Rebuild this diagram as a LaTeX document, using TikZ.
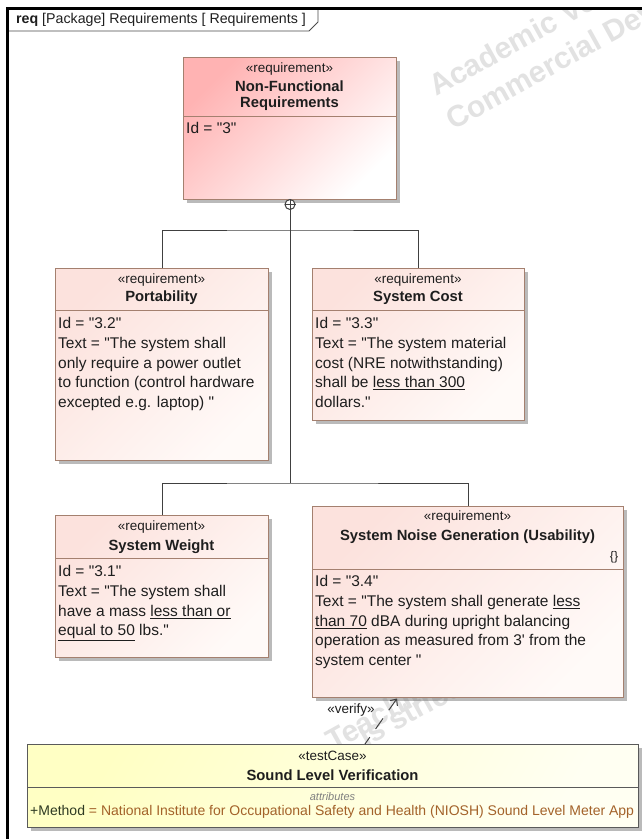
\documentclass[tikz,border=0pt]{standalone}
\usepackage{fontspec}
\setmainfont{Liberation Sans}[Ligatures=TeXOff]
\usetikzlibrary{arrows.meta,shadows}

\definecolor{reqborder}{HTML}{A4806F}
\definecolor{reqA}{HTML}{FCE2DD}
\definecolor{reqB}{HTML}{FFFAF8}
\definecolor{nfrA}{HTML}{FFB3B3}
\definecolor{nfrB}{HTML}{FFFFFF}
\definecolor{tcA}{HTML}{FFFFC4}
\definecolor{tcB}{HTML}{FFFFF2}
\definecolor{tcborder}{HTML}{5A5A5A}
\definecolor{connc}{HTML}{404040}
\definecolor{methA}{HTML}{2E3A22}
\definecolor{methB}{HTML}{A3622A}
\definecolor{wmc}{HTML}{E2E2E2}
\definecolor{txt}{HTML}{1E1E1E}

\begin{document}
\begin{tikzpicture}[x=1pt,y=-1pt,
  shadowed/.style={drop shadow={shadow xshift=3pt,shadow yshift=-3pt,opacity=.45,fill=black!60}},
  boxsize/.style 2 args={minimum width=#1pt,minimum height=#2pt},
  reqbox/.style={draw=reqborder,line width=1.1pt,top color=reqA,bottom color=reqB,shading angle=45,
    shadowed,inner sep=0pt,anchor=north west},
  nfrbox/.style={reqbox,top color=nfrA,bottom color=nfrB,shading angle=45},
  tcbox/.style={draw=tcborder,line width=1.1pt,left color=tcA,right color=tcB,shading angle=60,
    shadowed,inner sep=0pt,anchor=north west},
  sepline/.style={draw=reqborder,line width=1pt},
  tcsep/.style={draw=tcborder,line width=1pt},
  stereo/.style={font=\fontsize{13.5}{16}\selectfont,text=txt,inner sep=0pt},
  rname/.style={font=\bfseries\fontsize{14.8}{16}\selectfont,text=txt,inner sep=0pt,align=center},
  body/.style={font=\fontsize{15.5}{19.7}\selectfont,text=txt,align=left,inner sep=0pt,anchor=north west},
  conn/.style={draw=connc,line width=1pt},
  wm/.style={font=\bfseries\fontsize{30}{30}\selectfont,text=wmc,inner sep=0pt,anchor=base west,rotate=29}
]
\useasboundingbox (0,0) rectangle (642,839);
\fill[white] (0,0) rectangle (642,839);

% watermarks (behind everything)
\begin{scope}
  \clip (8,10) rectangle (642,839);
  \node[wm] (wm1) at (436,97) {Academic Version};
  \node[wm] (wm2) at (453,131) {Commercial Development};
  \node[wm] (wm3) at (333,752) {Teaching};
  \node[wm] (wm4) at (366,748) {is strictly};
\end{scope}

% frame and tab
\draw[line width=0.8pt,draw=black!70,fill=white] (7,8.5) -- (318,8.5) -- (318,22) -- (309,31) -- (7,31) -- cycle;
\node[anchor=west,inner sep=0pt,font=\fontsize{14.2}{16}\selectfont,text=txt] (title) at (16,19.5)
  {\textbf{req} [Package] Requirements [ Requirements ]};
\draw[line width=3pt,black] (7,839) -- (7,8.5) -- (642,8.5);

% Non-Functional Requirements
\node[nfrbox,boxsize={213}{142}] (nfr) at (183,57) {};
\draw[sepline] (nfr.west |- 0,116) -- (nfr.east |- 0,116);
\node[stereo] (nfrst) at (289.5,69) {«requirement»};
\node[rname] (nfrnm) at (289.5,96) {Non-Functional\\Requirements};
\node[body] (nfrtx) at (186,122.4) {Id = "3"};

% Portability
\node[reqbox,boxsize={213}{192}] (port) at (55,268) {};
\draw[sepline] (port.west |- 0,310) -- (port.east |- 0,310);
\node[stereo] (portst) at (161.5,280) {«requirement»};
\node[rname] (portnm) at (161.5,298) {Portability};
\node[body] (porttx) at (58,317.4) {Id = "3.2"\\Text = "The system shall\\only require a power outlet\\to function (control hardware\\excepted e.g. laptop) "};

% System Cost
\node[reqbox,boxsize={212}{152}] (cost) at (312,268) {};
\draw[sepline] (cost.west |- 0,310) -- (cost.east |- 0,310);
\node[stereo] (costst) at (418,280) {«requirement»};
\node[rname] (costnm) at (418,298) {System Cost};
\node[body] (costtx) at (315,317.4) {Id = "3.3"\\Text = "The system material\\cost (NRE notwithstanding)\\shall be \underline{less than 300}\\dollars."};

% System Weight
\node[reqbox,boxsize={213}{142}] (weight) at (55,515) {};
\draw[sepline] (weight.west |- 0,558) -- (weight.east |- 0,558);
\node[stereo] (weightst) at (161.5,527) {«requirement»};
\node[rname] (weightnm) at (161.5,547) {System Weight};
\node[body] (weighttx) at (58,565.4) {Id = "3.1"\\Text = "The system shall\\have a mass \underline{less than or}\\\underline{equal to 50} lbs."};

% System Noise Generation
\node[reqbox,boxsize={311}{191}] (noise) at (312,506) {};
\draw[sepline] (noise.west |- 0,569) -- (noise.east |- 0,569);
\node[stereo] (noisest) at (467.5,517) {«requirement»};
\node[rname] (noisenm) at (467.5,537) {System Noise Generation (Usability)};
\node[inner sep=0pt,font=\fontsize{12.5}{14}\selectfont,text=txt] (noisecb) at (614,557) {\{\}};
\node[body] (noisetx) at (315,575.4) {Id = "3.4"\\Text = "The system shall generate \underline{less}\\\underline{than 70} dBA during upright balancing\\operation as measured from 3' from the\\system center "};

% Test case
\node[tcbox,boxsize={611}{83}] (tc) at (27,744) {};
\draw[tcsep] (tc.west |- 0,787) -- (tc.east |- 0,787);
\node[stereo] (tcst) at (332.5,755.5) {«testCase»};
\node[rname] (tcnm) at (332.5,775) {Sound Level Verification};
\node[inner sep=0pt,font=\itshape\fontsize{11}{12}\selectfont,text=black!50] (tcattr) at (332.5,797) {attributes};
\node[anchor=west,inner sep=0pt,font=\fontsize{14}{16}\selectfont] (tcmeth) at (30,812)
  {\textcolor{methA}{+Method} \textcolor{methB}{= National Institute for Occupational Safety and Health (NIOSH) Sound Level Meter App}};

% containment connectors
\node[circle,draw=connc,line width=1pt,fill=white,minimum size=10pt,inner sep=0pt] (plus) at (290,204.5) {};
\draw[conn] (plus.north) -- (plus.south) (plus.west) -- (plus.east);
\coordinate (j1) at (290,230);
\coordinate (j2) at (290,483);
\draw[conn] (plus.south) -- (j2);
\draw[conn] (port.north) |- (j1) -| (cost.north);
\draw[conn] (weight.north) |- (j2) -| (noise.north);

% verify dependency
\coordinate (vtip) at (397,698.5);
\coordinate (vtail) at (365,744);
\draw[conn,dash pattern=on 13pt off 10pt,{Straight Barb[length=5pt,width=9pt]}-] (vtip) -- (vtail);
\node[stereo] (vlabel) at (351,710.5) {«verify»};
\end{tikzpicture}
\end{document}
